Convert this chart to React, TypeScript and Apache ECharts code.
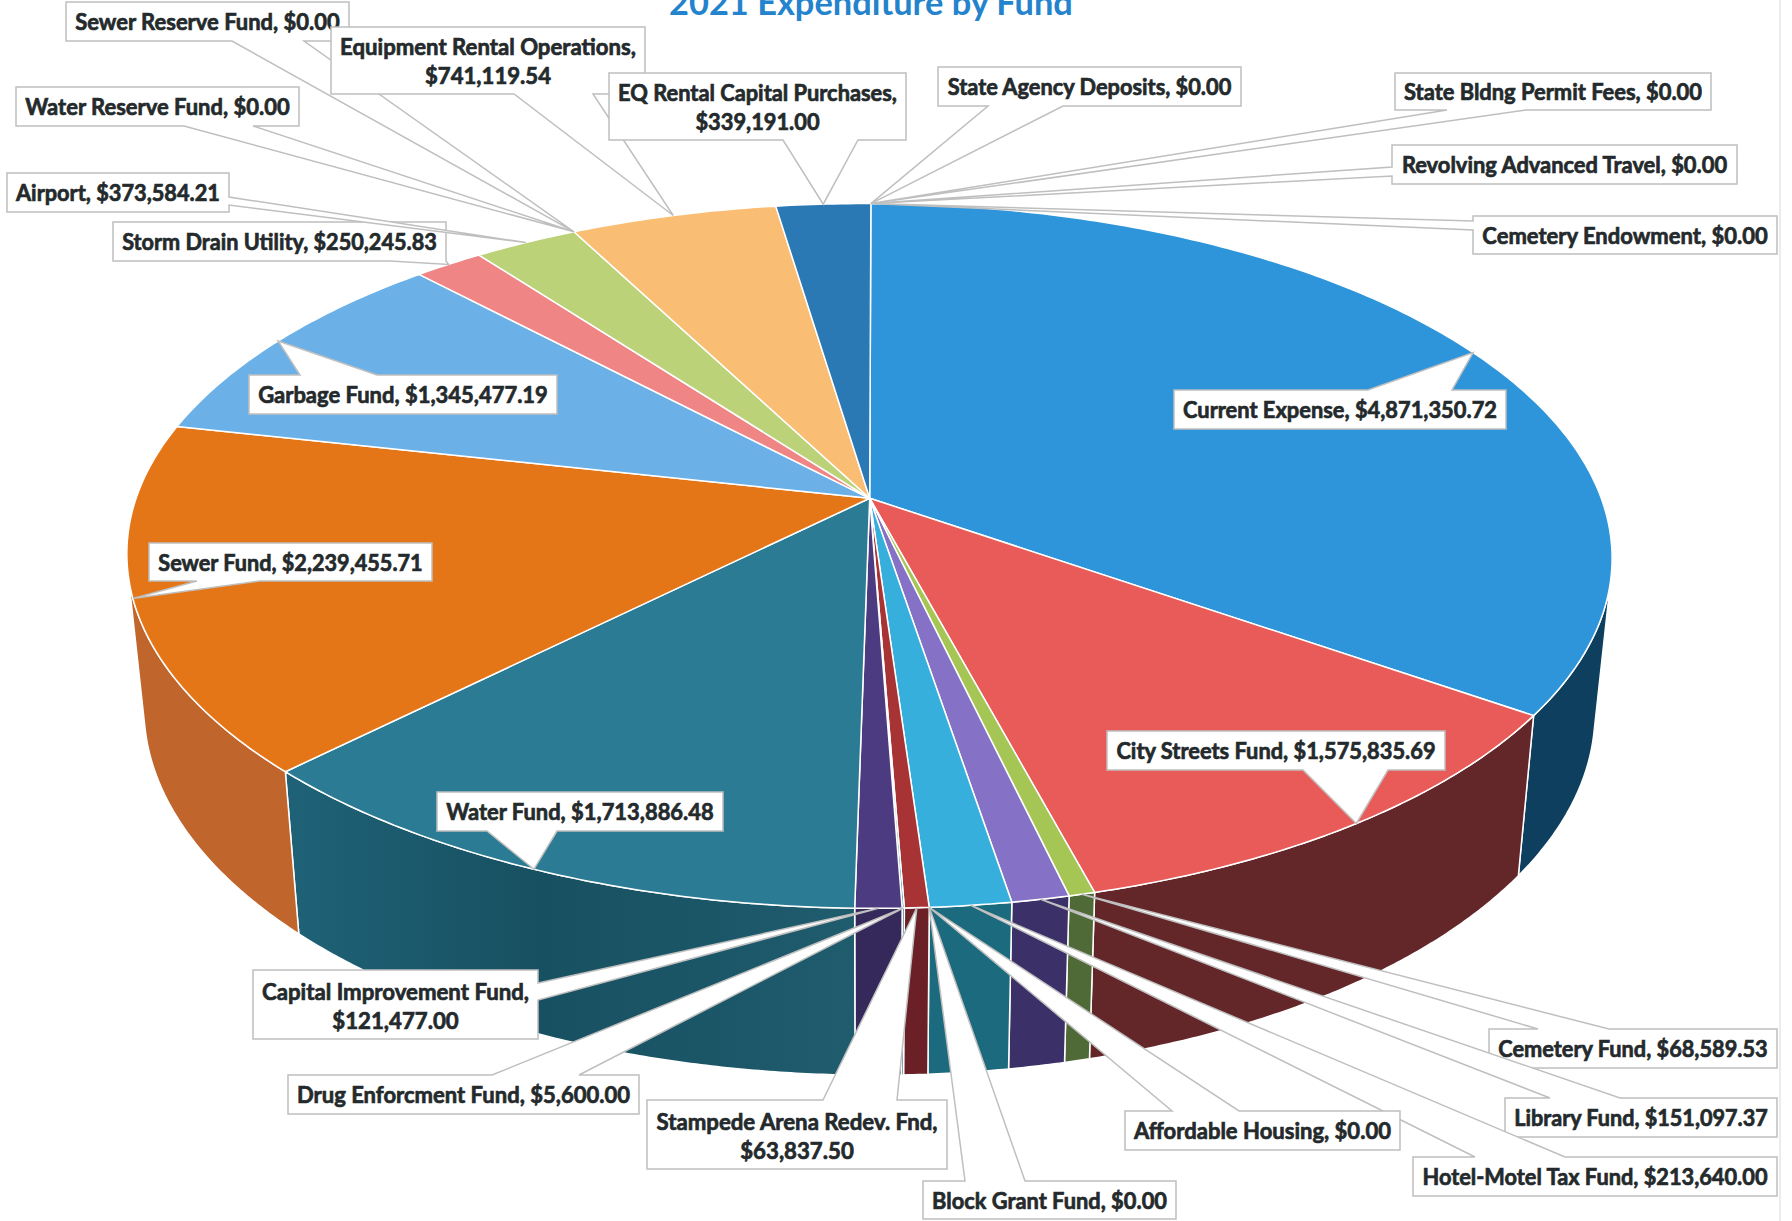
import React, { useEffect, useRef } from "react";
import * as echarts from "echarts";

// Funds, in clockwise order from twelve o'clock.
const categories = [
  "Current Expense", "City Streets Fund", "Cemetery Fund", "Library Fund", "Hotel-Motel Tax Fund",
  "Affordable Housing", "Block Grant Fund", "Stampede Arena Redev. Fnd", "Drug Enforcment Fund",
  "Capital Improvement Fund", "Water Fund", "Sewer Fund", "Garbage Fund", "Storm Drain Utility",
  "Airport", "Water Reserve Fund", "Sewer Reserve Fund", "Equipment Rental Operations",
  "EQ Rental Capital Purchases", "State Agency Deposits", "State Bldng Permit Fees",
  "Revolving Advanced Travel", "Cemetery Endowment",
];
const values = [
  4871350.72, 1575835.69, 68589.53, 151097.37, 213640.0, 0, 0, 63837.5, 5600.0, 121477.0,
  1713886.48, 2239455.71, 1345477.19, 250245.83, 373584.21, 0, 0, 741119.54, 339191.0, 0, 0, 0, 0,
];
const topColors = [
  "#2f95db", "#e95b58", "#a5c655", "#8571c5", "#36afdc", "#888888", "#888888", "#a83334", "#2f7d94",
  "#4c3b80", "#2b7b95", "#e57618", "#6bb1e8", "#f08585", "#bbd278", "#888888", "#888888", "#f9be74",
  "#2a79b5", "#888888", "#888888", "#888888", "#888888",
];
const wallColors = [
  "#0f3f5f", "#632629", "#4f6a36", "#3c3068", "#1c6a7e", "#555555", "#555555", "#6a2026", "#1c5566",
  "#35285a", "#1a5668", "#c0652c", "#3d6f94", "#96504f", "#75854a", "#555555", "#555555", "#9c7647",
  "#194c72", "#555555", "#555555", "#555555", "#555555",
];

// Callout box rectangles [left, top, right, bottom] in page pixels, one per fund.
const calloutBoxes = [
  [1174, 390, 1506, 429], [1107, 731, 1445, 770], [1489, 1029, 1777, 1068], [1505, 1098, 1777, 1137],
  [1413, 1157, 1777, 1196], [1125, 1111, 1400, 1150], [923, 1181, 1176, 1219], [647, 1100, 947, 1169],
  [288, 1075, 639, 1114], [253, 970, 538, 1039], [437, 792, 723, 831], [149, 543, 432, 581],
  [249, 375, 557, 414], [113, 222, 446, 261], [7, 173, 229, 212], [16, 87, 299, 126],
  [66, 2, 349, 41], [331, 27, 645, 94], [609, 73, 906, 140], [938, 67, 1241, 106],
  [1395, 73, 1711, 110], [1392, 145, 1737, 184], [1473, 216, 1777, 254],
];
// Which box edge each callout pointer leaves from, and the span it occupies on that edge.
const calloutEdges: [string, number, number][] = [
  ["t", 1368, 1452], ["b", 1303, 1388], ["t", 1538, 1609], ["t", 1550, 1620], ["t", 1475, 1565],
  ["t", 1172, 1239], ["t", 965, 1025], ["t", 823, 897], ["t", 492, 579], ["r", 983, 1000],
  ["b", 487, 557], ["b", 197, 260], ["t", 300, 377], ["b", 390, 446], ["r", 197, 205],
  ["b", 184, 253], ["b", 232, 304], ["b", 514, 593], ["b", 783, 858], ["b", 988, 1063],
  ["b", 1447, 1526], ["l", 167, 176], ["l", 221, 230],
];
const twoLineFunds = [
  "Equipment Rental Operations", "EQ Rental Capital Purchases",
  "Capital Improvement Fund", "Stampede Arena Redev. Fnd",
];

// Perspective disc: a unit circle seen from above the pie, hub at (HUB_X, HUB_Y).
const HUB_X = 869.7;
const HUB_Y = 498.3;
const RADIUS_X = 732.6;
const RADIUS_Y = 342.9;
const TILT = 0.1636;
// The whole disc sits very slightly turned about its hub.
const TURN = 0.004;
// The lower rim of the wall: narrower than the top and pushed down, more so nearer the viewer.
const FLOOR_SCALE_X = 0.977;
const FLOOR_SCALE_Y = 1.0353;
const FLOOR_SHIFT_Y = 134.9;

const total = values.reduce((a, b) => a + b, 0);
const starts: number[] = [];
values.reduce((acc, v, i) => {
  starts[i] = acc;
  return acc + v / total;
}, 0);

const rimPoint = (f: number): number[] => {
  const t = 2 * Math.PI * f;
  const u = Math.sin(t);
  const v = -Math.cos(t);
  const w = 1 - TILT * v;
  const dx = (RADIUS_X * u) / w;
  const dy = (RADIUS_Y * v) / w;
  return [HUB_X + dx - TURN * dy, HUB_Y + dy + TURN * dx];
};
const floorPoint = (p: number[]): number[] => [
  HUB_X + (p[0] - HUB_X) * FLOOR_SCALE_X,
  p[1] * FLOOR_SCALE_Y + FLOOR_SHIFT_Y,
];
const rimArc = (f0: number, f1: number): number[][] => {
  const n = Math.max(2, Math.ceil((f1 - f0) / 0.002));
  const pts: number[][] = [];
  for (let i = 0; i <= n; i++) pts.push(rimPoint(f0 + ((f1 - f0) * i) / n));
  return pts;
};
// A rim position faces the viewer when walking clockwise turns away from the drop to the floor.
const facesViewer = (f: number): boolean => {
  const p = rimPoint(f);
  const q = rimPoint(f + 0.0005);
  const d = floorPoint(p);
  return (q[0] - p[0]) * (d[1] - p[1]) - (q[1] - p[1]) * (d[0] - p[0]) < 0;
};

const money = (v: number) =>
  "$" + v.toLocaleString("en-US", { minimumFractionDigits: 2, maximumFractionDigits: 2 });

const FONT_SIZE = 23;
const LABEL_FONT = "Lato";
const measureCtx = document.createElement("canvas").getContext("2d")!;

const calloutOutline = (i: number): number[][] => {
  const [l, t, r, b] = calloutBoxes[i];
  const [edge, a, c] = calloutEdges[i];
  const tip = rimPoint(starts[i] + values[i] / total / 2);
  const pts: number[][] = [[l, t]];
  if (edge === "t") pts.push([a, t], tip, [c, t]);
  pts.push([r, t]);
  if (edge === "r") pts.push([r, a], tip, [r, c]);
  pts.push([r, b]);
  if (edge === "b") pts.push([c, b], tip, [a, b]);
  pts.push([l, b]);
  if (edge === "l") pts.push([l, c], tip, [l, a]);
  return pts;
};

const renderWall = (params: any) => {
  const i = params.dataIndex;
  if (values[i] === 0) return null;
  const f0 = starts[i];
  const f1 = f0 + values[i] / total;
  // Only the stretch of rim that faces the viewer gets a wall.
  const steps = Math.max(2, Math.ceil((f1 - f0) / 0.001));
  const visible: number[] = [];
  for (let s = 0; s <= steps; s++) {
    const f = f0 + ((f1 - f0) * s) / steps;
    if (facesViewer(f)) visible.push(f);
  }
  if (visible.length < 2) return null;
  const arc = visible.map(rimPoint);
  const points = [...arc, ...arc.slice().reverse().map(floorPoint)];
  let fill: any = wallColors[i];
  if (categories[i] === "Water Fund") {
    fill = new echarts.graphic.LinearGradient(0, 0, 1, 0, [
      { offset: 0, color: "#1f6277" },
      { offset: 0.45, color: "#175061" },
      { offset: 1, color: "#1f5c6e" },
    ]);
  }
  return {
    type: "polygon",
    shape: { points },
    style: { fill, stroke: "#ffffff", lineWidth: 1.5 },
  };
};

const renderTop = (params: any) => {
  const i = params.dataIndex;
  if (values[i] === 0) return null;
  return {
    type: "polygon",
    shape: { points: [[HUB_X, HUB_Y], ...rimArc(starts[i], starts[i] + values[i] / total)] },
    style: { fill: topColors[i], stroke: "#ffffff", lineWidth: 1.5, lineJoin: "round" },
  };
};

const renderCallout = (params: any) => {
  const i = params.dataIndex;
  const [l, t, r, b] = calloutBoxes[i];
  const twoLines = twoLineFunds.includes(categories[i]);
  const text = categories[i] + (twoLines ? ",\n" : ", ") + money(values[i]);
  measureCtx.font = `bold ${FONT_SIZE}px ${LABEL_FONT}`;
  const widest = Math.max(...text.split("\n").map((s) => measureCtx.measureText(s).width));
  const scaleX = (r - l - 18) / widest;
  return {
    type: "group",
    children: [
      {
        type: "polygon",
        z2: i * 2,
        shape: { points: calloutOutline(i) },
        style: { fill: "#ffffff", stroke: "#bfbfbf", lineWidth: 1.5 },
      },
      {
        type: "text",
        z2: i * 2 + 1,
        x: (l + r) / 2,
        y: (t + b) / 2 + (twoLines && t > 500 ? 1.5 : 0),
        scaleX,
        style: {
          text,
          x: 0,
          y: 0,
          align: "center",
          verticalAlign: "middle",
          fill: "#242a2c",
          stroke: "#242a2c",
          lineWidth: 0.7,
          font: `bold ${FONT_SIZE}px ${LABEL_FONT}`,
          lineHeight: 29,
        },
      },
    ],
  };
};

export default function App() {
  const ref = useRef<HTMLDivElement>(null);
  useEffect(() => {
    const chart = echarts.init(ref.current!, undefined, { renderer: "svg" });
    chart.setOption({
      animation: false,
      backgroundColor: "#ffffff",
      title: {
        text: "2021 Expenditure by Fund",
        left: 664,
        top: -21,
        textStyle: { fontFamily: "Lato", fontWeight: "bold", fontSize: 34.4, color: "#2383cc" },
      },
      graphic: [
        {
          type: "line",
          silent: true,
          shape: { x1: 1780, y1: 0, x2: 1780, y2: 1221 },
          style: { stroke: "#e6e6e6", lineWidth: 1.5 },
        },
      ],
      series: [
        { type: "custom", coordinateSystem: "none", z: 1, data: values, renderItem: renderWall, silent: true },
        { type: "custom", coordinateSystem: "none", z: 2, data: values, renderItem: renderTop, silent: true },
        { type: "custom", coordinateSystem: "none", z: 3, data: values, renderItem: renderCallout, silent: true },
      ],
    });
    return () => chart.dispose();
  }, []);
  return (
    <div
      ref={ref}
      style={{ position: "absolute", left: 0, top: 0, width: 1792, height: 1221 }}
    />
  );
}
